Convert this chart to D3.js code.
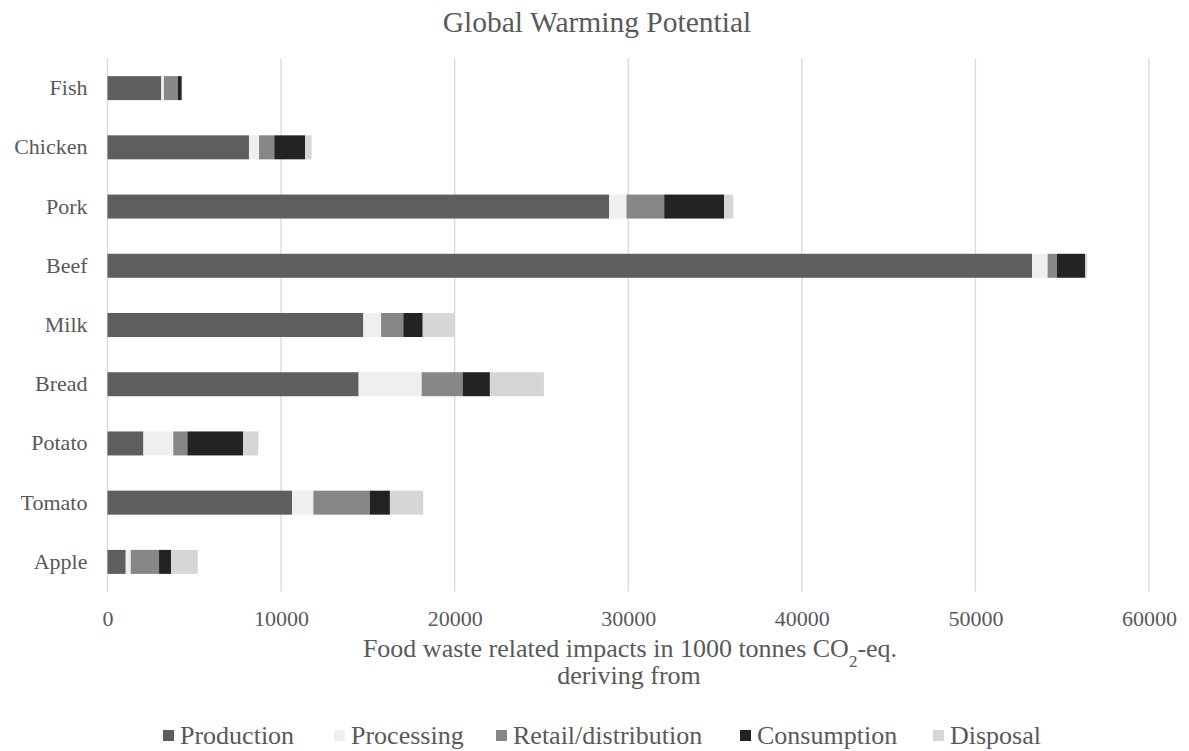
<!DOCTYPE html>
<html><head><meta charset="utf-8">
<script src="https://cdn.jsdelivr.net/npm/d3@7"></script>
<style>body{margin:0;background:#fff}svg{display:block}</style>
</head><body><svg id="c" width="1189" height="751"></svg>
<script>
const categories = ["Fish","Chicken","Pork","Beef","Milk","Bread","Potato","Tomato","Apple"];
const stages = ["Production","Processing","Retail/distribution","Consumption","Disposal"];
const production   = [3100, 8150, 28900, 53270, 14740, 14470, 2070, 10630, 1050];
const processing   = [150, 580, 1000, 890, 1020, 3630, 1720, 1230, 290];
const retail       = [800, 880, 2170, 540, 1280, 2360, 810, 3260, 1630];
const consumption  = [230, 1770, 3460, 1630, 1120, 1570, 3220, 1150, 690];
const disposal     = [20, 380, 520, 110, 1800, 3110, 870, 1920, 1540];
const xTicks = [0,10000,20000,30000,40000,50000,60000];
const colors = ["#5e5e5e","#efefef","#878787","#232323","#d6d6d6"];
const FONT = "'Liberation Serif', 'Times New Roman', serif";

const series = [production, processing, retail, consumption, disposal];
const rows = categories.map((c,i)=>{const o={cat:c}; stages.forEach((s,j)=>o[s]=series[j][i]); return o;});
const stacked = d3.stack().keys(stages)(rows);

const svg = d3.select("#c");
const m = {l:107.5, r:1149, t:58.5, b:591.5};
const x = d3.scaleLinear().domain([0,60000]).range([m.l,m.r]);
const y = d3.scaleBand().domain(categories).range([m.t,m.b]).paddingInner(0.595).paddingOuter(0.2975);

svg.append("g").selectAll("line").data(xTicks).join("line")
  .attr("x1",d=>x(d)).attr("x2",d=>x(d)).attr("y1",m.t).attr("y2",m.b)
  .attr("stroke","#d9d9d9").attr("stroke-width",1.3);

svg.append("g").selectAll("g").data(stacked).join("g")
  .attr("fill",(d,i)=>colors[i])
  .selectAll("rect").data(d=>d).join("rect")
  .attr("x",d=>x(d[0])).attr("width",d=>Math.max(0,x(d[1])-x(d[0])))
  .attr("y",d=>y(d.data.cat)).attr("height",y.bandwidth());

const xa = svg.append("g").attr("transform",`translate(0,${m.b})`)
  .call(d3.axisBottom(x).tickValues(xTicks).tickFormat(d3.format("d")).tickSize(0).tickPadding(19));
xa.select(".domain").remove();
xa.selectAll("text").style("font-family",FONT).style("font-size","22px").attr("fill","#595959");

const ya = svg.append("g").attr("transform",`translate(${m.l},0)`)
  .call(d3.axisLeft(y).tickSize(0).tickPadding(20));
ya.select(".domain").remove();
ya.selectAll("text").style("font-family",FONT).style("font-size","22px").attr("fill","#595959");

const T = (sel)=>sel.style("font-family",FONT).attr("fill","#595959");

T(svg.append("text")).attr("x",597).attr("y",32).attr("text-anchor","middle")
  .style("font-size","29.5px").text("Global Warming Potential");

const at = T(svg.append("text")).attr("x",630).attr("y",657).attr("text-anchor","middle").style("font-size","26px");
at.append("tspan").text("Food waste related impacts in 1000 tonnes CO");
at.append("tspan").attr("baseline-shift","sub").style("font-size","17px").text("2");
at.append("tspan").text("-eq.");
T(svg.append("text")).attr("x",629).attr("y",684).attr("text-anchor","middle").style("font-size","26px")
  .text("deriving from");

const legX = [163, 334, 496, 740, 933];
const lg = svg.append("g").selectAll("g").data(stages).join("g")
  .attr("transform",(d,i)=>`translate(${legX[i]},744)`);
lg.append("rect").attr("x",0).attr("y",-14).attr("width",11).attr("height",11).attr("fill",(d,i)=>colors[i]);
T(lg.append("text")).attr("x",17).attr("y",0).style("font-size","26px").text(d=>d);
</script></body></html>
